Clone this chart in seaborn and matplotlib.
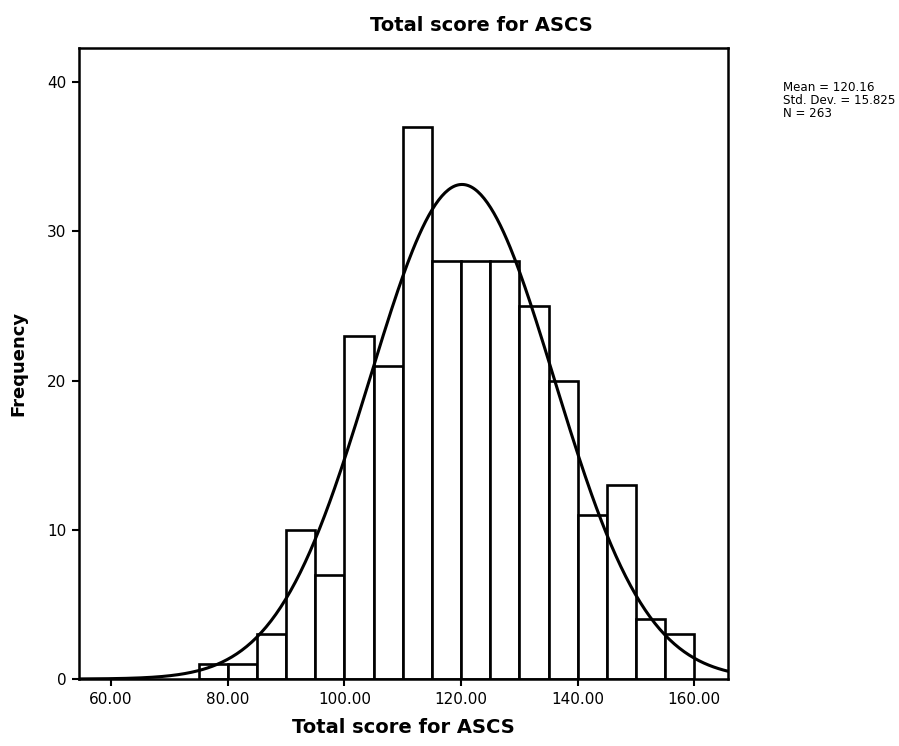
import numpy as np
import pandas as pd
import matplotlib
matplotlib.use('Agg')
import matplotlib.pyplot as plt
import seaborn as sns

# Histogram bins (score bins of width 5) and counts
bin_edges = [75, 80, 85, 90, 95, 100, 105, 110, 115, 120, 125, 130, 135, 140, 145, 150, 155, 160]
counts = [1, 1, 3, 10, 7, 23, 21, 37, 28, 28, 28, 25, 20, 11, 13, 4, 3]
bin_mid = [(a + b) / 2 for a, b in zip(bin_edges[:-1], bin_edges[1:])]

mean_score = 120.16
sd_score = 15.825
n_total = 263
bin_width = 5

x_ticks = [60, 80, 100, 120, 140, 160]
y_ticks = [0, 10, 20, 30, 40]

sns.set_style('white')
plt.rcParams['font.family'] = ['DejaVu Sans']
plt.rcParams['text.color'] = 'black'
plt.rcParams['axes.labelcolor'] = 'black'
plt.rcParams['xtick.color'] = 'black'
plt.rcParams['ytick.color'] = 'black'

fig = plt.figure(figsize=(8.99, 7.46), dpi=100)
ax = fig.add_axes([0.0879, 0.0898, 0.7221, 0.8459])

df = pd.DataFrame({'score': bin_mid, 'freq': counts})
sns.histplot(data=df, x='score', weights='freq', bins=bin_edges, stat='count',
             color='white', edgecolor='black', linewidth=1.9, alpha=1, ax=ax)

# normal curve scaled to counts
xs = np.linspace(54.5, 165.8, 400)
curve = n_total * bin_width / (sd_score * np.sqrt(2 * np.pi)) * np.exp(-0.5 * ((xs - mean_score) / sd_score) ** 2)
sns.lineplot(x=xs, y=curve, color='black', linewidth=2.2, ax=ax)

ax.set_xlim(54.5, 165.8)
ax.set_ylim(0, 42.3)
ax.set_xticks(x_ticks)
ax.set_xticklabels([f'{t:.2f}' for t in x_ticks], fontsize=11)
ax.set_yticks(y_ticks)
ax.set_yticklabels([str(t) for t in y_ticks], fontsize=11)
ax.tick_params(axis='both', direction='out', length=5, width=1.5, color='black',
               labelcolor='black', bottom=True, left=True, pad=4)
for s in ax.spines.values():
    s.set_color('black')
    s.set_linewidth(1.8)

ax.set_xlabel('Total score for ASCS', fontsize=14, fontweight='bold', labelpad=8, color='black')
ax.set_ylabel('Frequency', fontsize=13, fontweight='bold', labelpad=14, color='black')

fig.text(0.535, 0.966, 'Total score for ASCS', fontsize=14, fontweight='bold',
         ha='center', va='center', color='black')
fig.text(0.871, 0.892, f'Mean = {mean_score:.2f}\nStd. Dev. = {sd_score:.3f}\nN = {n_total}',
         fontsize=8.6, ha='left', va='top', linespacing=1.0, color='black')

fig.savefig('out.png', dpi=100)
